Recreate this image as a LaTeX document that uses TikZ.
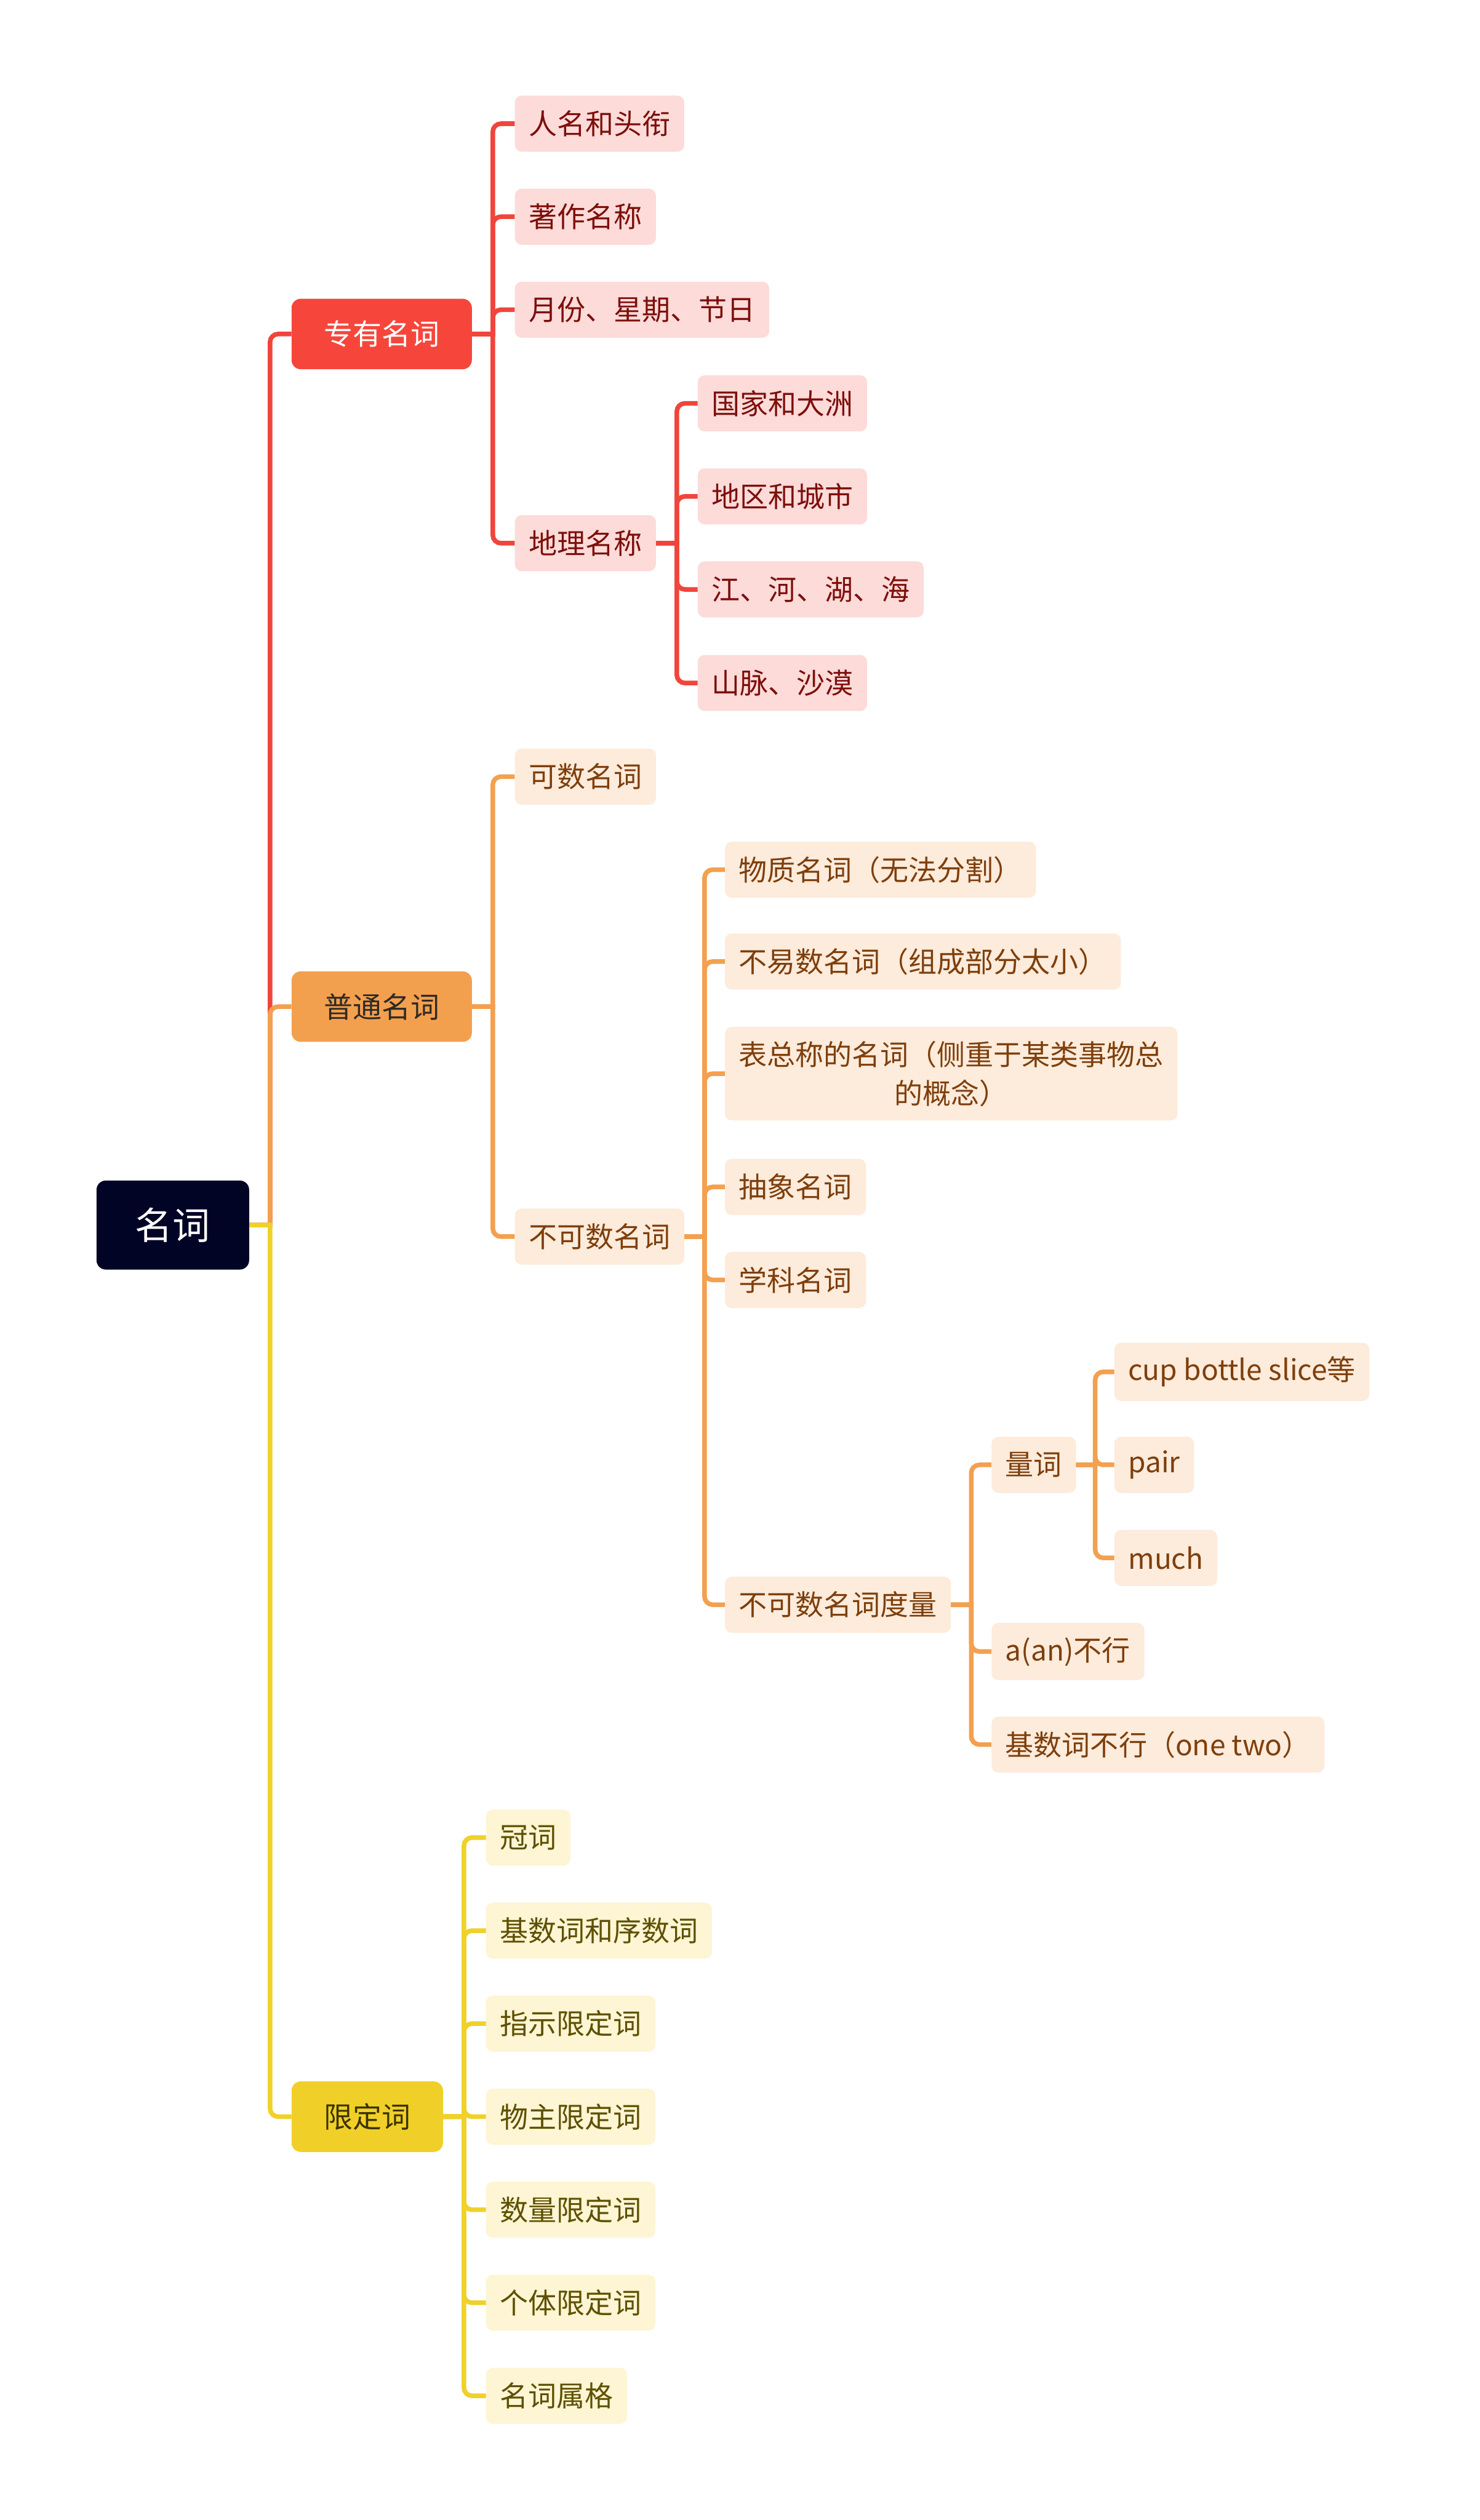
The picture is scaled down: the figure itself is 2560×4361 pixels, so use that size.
\documentclass[tikz,border=0pt]{standalone}
\usepackage{fontspec}
\setmainfont{Noto Sans CJK SC}
\usetikzlibrary{positioning}
\definecolor{rootnavy}{HTML}{020426}
\definecolor{redmain}{HTML}{F6463C}
\definecolor{redrule}{HTML}{F0453C}
\definecolor{redsoft}{HTML}{FCDBD9}
\definecolor{redink}{HTML}{7D0F0B}
\definecolor{orgmain}{HTML}{F3A04E}
\definecolor{orgrule}{HTML}{F3A050}
\definecolor{orgsoft}{HTML}{FDEBDB}
\definecolor{orgink}{HTML}{7E3F0C}
\definecolor{orgdark}{HTML}{2E2A25}
\definecolor{ylwmain}{HTML}{F0D028}
\definecolor{ylwrule}{HTML}{F0D12A}
\definecolor{ylwsoft}{HTML}{FDF5D3}
\definecolor{ylwink}{HTML}{5E5000}
\definecolor{ylwdark}{HTML}{3B3300}

\begin{document}
\begin{tikzpicture}[x=1pt, y=1pt,
  rootbox/.style={fill=rootnavy, text=white, rounded corners=16pt, inner xsep=67pt,
    minimum height=154pt, font=\fontsize{65}{78}\selectfont},
  topic/.style={rounded corners=16pt, inner xsep=56pt, minimum height=122pt,
    font=\fontsize{50}{60}\selectfont},
  leaf/.style={rounded corners=12pt, inner xsep=24pt, inner ysep=24pt,
    minimum height=97pt, font=\fontsize{49}{67}\selectfont, align=center},
  redleaf/.style={leaf, fill=redsoft, text=redink},
  orgleaf/.style={leaf, fill=orgsoft, text=orgink},
  ylwleaf/.style={leaf, fill=ylwsoft, text=ylwink},
  wire/.style={line width=8pt},
  elbow/.style={rounded corners=14pt},
  redwire/.style={wire, draw=redrule},
  orgwire/.style={wire, draw=orgrule},
  ylwwire/.style={wire, draw=ylwrule}]
  \fill[white] (0,0) rectangle (2560,-4361);
  \useasboundingbox (0,0) rectangle (2560,-4361);

  \node[rootbox] (root) at (299,-2120) {名词};
  \node[topic, fill=redmain, text=white, right=73pt of root, yshift=1542pt] (zy) {专有名词};
  \node[topic, fill=orgmain, text=orgdark, right=73pt of root, yshift=378pt] (pt) {普通名词};
  \node[topic, fill=ylwmain, text=ylwdark, right=73pt of root, yshift=-1543pt] (xd) {限定词};

  % 专有名词
  \node[redleaf, right=74pt of zy, yshift=364pt] (zy1) {人名和头衔};
  \node[redleaf, right=74pt of zy, yshift=203pt] (zy2) {著作名称};
  \node[redleaf, right=74pt of zy, yshift=42pt] (zy3) {月份、星期、节日};
  \node[redleaf, right=74pt of zy, yshift=-362pt] (zy4) {地理名称};
  \node[redleaf, right=72pt of zy4, yshift=242pt] (dl1) {国家和大洲};
  \node[redleaf, right=72pt of zy4, yshift=81pt] (dl2) {地区和城市};
  \node[redleaf, right=72pt of zy4, yshift=-80pt] (dl3) {江、河、湖、海};
  \node[redleaf, right=72pt of zy4, yshift=-242pt] (dl4) {山脉、沙漠};

  % 普通名词
  \node[orgleaf, right=74pt of pt, yshift=398pt] (pt1) {可数名词};
  \node[orgleaf, right=74pt of pt, yshift=-398pt] (pt2) {不可数名词};
  \node[orgleaf, right=70pt of pt2, yshift=635pt] (bk1) {物质名词（无法分割）};
  \node[orgleaf, right=70pt of pt2, yshift=476pt] (bk2) {不易数名词（组成部分太小）};
  \node[orgleaf, right=70pt of pt2, yshift=282pt] (bk3) {表总称的名词（侧重于某类事物总\\的概念）};
  \node[orgleaf, right=70pt of pt2, yshift=86pt] (bk4) {抽象名词};
  \node[orgleaf, right=70pt of pt2, yshift=-75pt] (bk5) {学科名词};
  \node[orgleaf, right=70pt of pt2, yshift=-637pt] (dm) {不可数名词度量};
  \node[orgleaf, right=70pt of dm, yshift=242pt] (lc) {量词};
  \node[orgleaf, right=70pt of dm, yshift=-81pt] (dm2) {a(an)不行};
  \node[orgleaf, right=70pt of dm, yshift=-242pt] (dm3) {基数词不行（one two）};
  \node[orgleaf, right=66pt of lc, yshift=161pt] (lc1) {cup bottle slice等};
  \node[orgleaf, right=66pt of lc] (lc2) {pair};
  \node[orgleaf, right=66pt of lc, yshift=-161pt] (lc3) {much};

  % 限定词
  \node[ylwleaf, right=74pt of xd, yshift=483pt] (xd1) {冠词};
  \node[ylwleaf, right=74pt of xd, yshift=322pt] (xd2) {基数词和序数词};
  \node[ylwleaf, right=74pt of xd, yshift=161pt] (xd3) {指示限定词};
  \node[ylwleaf, right=74pt of xd] (xd4) {物主限定词};
  \node[ylwleaf, right=74pt of xd, yshift=-161pt] (xd5) {数量限定词};
  \node[ylwleaf, right=74pt of xd, yshift=-322pt] (xd6) {个体限定词};
  \node[ylwleaf, right=74pt of xd, yshift=-483pt] (xd7) {名词属格};

  % branches
  \draw[redwire] (root.east) -- ([xshift=36pt]root.east) [elbow] |- (zy.west);
  \draw[orgwire] (root.east) -- ([xshift=36pt]root.east) [elbow] |- (pt.west);
  \draw[ylwwire] (root.east) -- ([xshift=36pt]root.east) [elbow] |- (xd.west);
  \foreach \c in {zy1,zy2,zy3,zy4}
    \draw[redwire] (zy.east) -- ([xshift=36pt]zy.east) [elbow] |- (\c.west);
  \foreach \c in {dl1,dl2,dl3,dl4}
    \draw[redwire] (zy4.east) -- ([xshift=36pt]zy4.east) [elbow] |- (\c.west);
  \foreach \c in {pt1,pt2}
    \draw[orgwire] (pt.east) -- ([xshift=36pt]pt.east) [elbow] |- (\c.west);
  \foreach \c in {bk1,bk2,bk3,bk4,bk5,dm}
    \draw[orgwire] (pt2.east) -- ([xshift=35pt]pt2.east) [elbow] |- (\c.west);
  \foreach \c in {lc,dm2,dm3}
    \draw[orgwire] (dm.east) -- ([xshift=35pt]dm.east) [elbow] |- (\c.west);
  \foreach \c in {lc1,lc2,lc3}
    \draw[orgwire] (lc.east) -- ([xshift=33pt]lc.east) [elbow] |- (\c.west);
  \foreach \c in {xd1,xd2,xd3,xd4,xd5,xd6,xd7}
    \draw[ylwwire] (xd.east) -- ([xshift=36pt]xd.east) [elbow] |- (\c.west);
\end{tikzpicture}
\end{document}
